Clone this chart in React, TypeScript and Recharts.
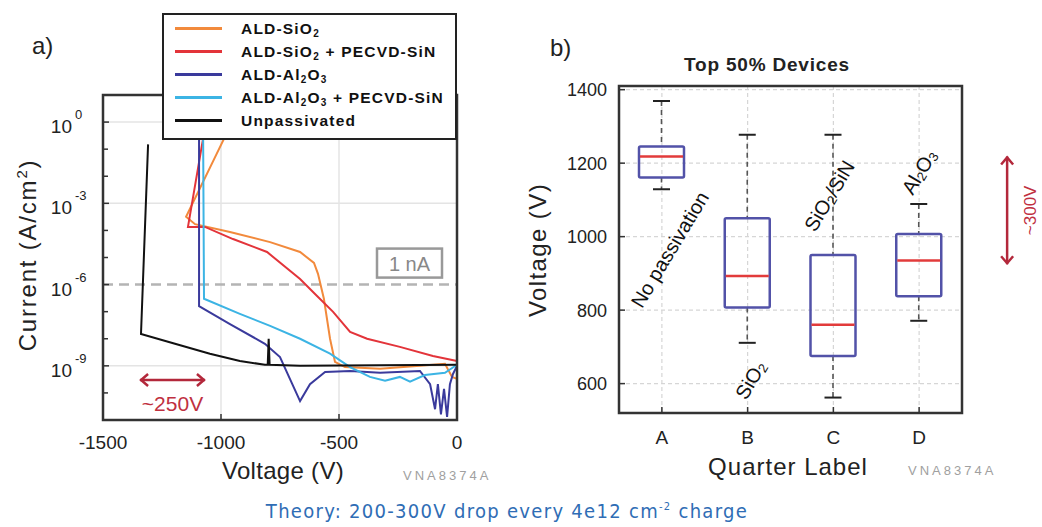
import React from 'react';
import {
  LineChart, Line, XAxis, YAxis, CartesianGrid, ReferenceLine, ReferenceDot, ReferenceArea, Legend, ComposedChart, Bar,
} from 'recharts';

const FONT = "'Liberation Sans', Arial, Helvetica, sans-serif";

// ---------- Panel a: I-V curves (V, A/cm^2) ----------
const ivSiO2 = [
  { v: -953, i: 1e0 }, { v: -1148, i: 3.2e-4 }, { v: -1110, i: 1.7e-4 }, { v: -962, i: 8.7e-5 },
  { v: -792, i: 3.7e-5 }, { v: -665, i: 1.6e-5 }, { v: -606, i: 6.3e-6 }, { v: -589, i: 2.5e-6 },
  { v: -564, i: 3e-7 }, { v: -538, i: 1e-8 }, { v: -517, i: 1.4e-9 }, { v: -475, i: 9e-10 },
  { v: -326, i: 7.8e-10 }, { v: -157, i: 1e-9 }, { v: -51, i: 1.2e-9 }, { v: -21, i: 3.9e-10 }, { v: 0, i: 3.3e-10 },
];
const ivSiO2SiN = [
  { v: -1064, i: 1e0 }, { v: -1140, i: 1.35e-4 }, { v: -1068, i: 1.35e-4 }, { v: -949, i: 4.8e-5 },
  { v: -805, i: 1.6e-5 }, { v: -665, i: 1.6e-6 }, { v: -593, i: 3.8e-7 }, { v: -525, i: 9.8e-8 },
  { v: -453, i: 1.8e-8 }, { v: -381, i: 1e-8 }, { v: -242, i: 5e-9 }, { v: -102, i: 2.3e-9 }, { v: 0, i: 1.5e-9 },
];
const ivAl2O3 = [
  { v: -1093, i: 1e0 }, { v: -1093, i: 1.6e-7 }, { v: -962, i: 3.5e-8 }, { v: -814, i: 6.5e-9 },
  { v: -750, i: 2.1e-9 }, { v: -708, i: 3.3e-10 }, { v: -665, i: 5e-11 }, { v: -623, i: 2.1e-10 },
  { v: -559, i: 5.9e-10 }, { v: -453, i: 6.5e-10 }, { v: -326, i: 5.5e-10 }, { v: -157, i: 6.5e-10 },
  { v: -114, i: 2.1e-10 }, { v: -93, i: 2.5e-11 }, { v: -81, i: 2.1e-10 }, { v: -68, i: 1.6e-11 },
  { v: -55, i: 1.4e-10 }, { v: -42, i: 1.3e-11 }, { v: -30, i: 2.1e-10 }, { v: -17, i: 5e-10 }, { v: 0, i: 1e-9 },
];
const ivAl2O3SiN = [
  { v: -1076, i: 1e0 }, { v: -1072, i: 3e-7 }, { v: -920, i: 8.3e-8 }, { v: -792, i: 3e-8 },
  { v: -665, i: 1e-8 }, { v: -538, i: 2.8e-9 }, { v: -453, i: 9e-10 }, { v: -369, i: 3.9e-10 },
  { v: -305, i: 2.8e-10 }, { v: -242, i: 3.9e-10 }, { v: -199, i: 2.6e-10 }, { v: -136, i: 4.6e-10 },
  { v: -51, i: 5.5e-10 }, { v: 0, i: 1.1e-9 },
];
const ivUnpassivated = [
  { v: -1309, i: 1.5e-1 }, { v: -1339, i: 1.5e-8 }, { v: -1195, i: 6.5e-9 }, { v: -1047, i: 2.8e-9 },
  { v: -920, i: 1.5e-9 }, { v: -814, i: 1.1e-9 }, { v: -802, i: 1.1e-9 }, { v: -798, i: 1e-8 },
  { v: -794, i: 1.1e-9 }, { v: -665, i: 1e-9 }, { v: 0, i: 1.1e-9 },
];

const seriesA = [
  { name: 'ALD-SiO_2', color: '#f28a3c', data: ivSiO2 },
  { name: 'ALD-SiO_2 + PECVD-SiN', color: '#e3343a', data: ivSiO2SiN },
  { name: 'ALD-Al_2O_3', color: '#3a3a9c', data: ivAl2O3 },
  { name: 'ALD-Al_2O_3 + PECVD-SiN', color: '#3cb4e4', data: ivAl2O3SiN },
  { name: 'Unpassivated', color: '#111111', data: ivUnpassivated },
];

const voltDomainA = [-1500, 0];
const currentDomainA = [1e-11, 10];
const voltTicksA = [-1500, -1000, -500, 0];
const decadeTicks = [1e-11, 1e-10, 1e-9, 1e-8, 1e-7, 1e-6, 1e-5, 1e-4, 1e-3, 1e-2, 1e-1, 1e0, 1e1];
const gridDecadesA = [1e-9, 1e-3, 1e0];
const gridVoltsA = [-1000, -500];

// two interior reference points; the frame is extended from them to the domain edges
const frameRefA = [{ x: -1000, y: 1e-9 }, { x: -500, y: 1e-3 }];

// ---------- Panel b: box plot (Top 50% devices) ----------
const quarters = ['A', 'B', 'C', 'D'];
const whiskerLow = [1129, 711, 562, 771];
const q1 = [1161, 807, 675, 838];
const median = [1218, 893, 760, 935];
const q3 = [1245, 1050, 950, 1007];
const whiskerHigh = [1369, 1277, 1277, 1089];
const voltTicksB = [600, 800, 1000, 1200, 1400];

const boxRows = quarters.map((q, k) => ({
  q, range: [whiskerLow[k], whiskerHigh[k]], q1: q1[k], med: median[k], q3: q3[k],
}));

const withSub = (s: string) =>
  s.split(/(_\d)/).map((part, k) =>
    part.startsWith('_') ? (
      <sub key={k} style={{ fontSize: 10, verticalAlign: -3, lineHeight: 0 }}>{part.slice(1)}</sub>
    ) : (
      <span key={k}>{part}</span>
    ),
  );

const LegendBox = () => (
  <div style={{
    border: '2px solid #222', background: '#fff', boxSizing: 'border-box', width: 295, height: 127,
    paddingTop: 2, fontFamily: FONT, fontWeight: 'bold', fontSize: 15.5, color: '#111', letterSpacing: 1.2,
  }}>
    {seriesA.map((s) => (
      <div key={s.name} style={{ display: 'flex', alignItems: 'center', height: 23, whiteSpace: 'nowrap' }}>
        <span style={{ display: 'inline-block', width: 47, height: 3, background: s.color, marginLeft: 11, marginRight: 19 }} />
        <span>{withSub(s.name)}</span>
      </div>
    ))}
  </div>
);

const LogTick = (p: any) => {
  const { x, y, payload } = p;
  const e = Math.round(Math.log10(payload.value));
  const major = e % 3 === 0 && e <= 0 && e >= -9;
  return (
    <g>
      <line x1={x} y1={y} x2={x + (major ? 6 : 5)} y2={y} stroke="#333" strokeWidth={1.5} />
      {major && (
        <>
          <text x={x - 31} y={y + 11} textAnchor="end" fontSize={19} fill="#222" fontFamily={FONT}>10</text>
          <text x={x - 28} y={y - 3} textAnchor="start" fontSize={13} fill="#222" fontFamily={FONT}>{e === 0 ? '0' : `-${-e}`}</text>
        </>
      )}
    </g>
  );
};
const RightTickA = (p: any) => (
  <line x1={p.x} y1={p.y} x2={p.x - 5} y2={p.y} stroke="#333" strokeWidth={1.5} />
);
const XTickA = (p: any) => (
  <g>
    <line x1={p.x} y1={p.y} x2={p.x} y2={p.y - 6} stroke="#333" strokeWidth={1.5} />
    <text x={p.x} y={p.y + 29} textAnchor="middle" fontSize={19} fill="#222" fontFamily={FONT}>{p.payload.value}</text>
  </g>
);
const NaLabel = (p: any) => {
  const vb = p.viewBox || {};
  const rx = vb.x + vb.width - 80;
  return (
    <g>
      <rect x={rx} y={vb.y - 36} width={65} height={29} fill="#fff" stroke="#999" strokeWidth={2.5} />
      <text x={rx + 32.5} y={vb.y - 14} textAnchor="middle" fontSize={20} fill="#888" fontFamily={FONT}>1 nA</text>
    </g>
  );
};

// Frame: the segment endpoints are the library's pixel positions of frameRefA;
// extend linearly (x) and logarithmically (y) to the domain edges.
const FrameA = (p: any) => {
  const { x1, y1, x2, y2 } = p;
  if (![x1, y1, x2, y2].every((n) => Number.isFinite(n))) return null;
  const [a, b] = frameRefA;
  const px = (v: number) => x1 + ((v - a.x) / (b.x - a.x)) * (x2 - x1);
  const la = Math.log10(a.y);
  const lb = Math.log10(b.y);
  const py = (c: number) => y1 + ((Math.log10(c) - la) / (lb - la)) * (y2 - y1);
  const left = px(voltDomainA[0]);
  const right = px(voltDomainA[1]);
  const bottom = py(currentDomainA[0]);
  const top = py(currentDomainA[1]);
  return (
    <rect x={left} y={top} width={right - left} height={bottom - top} fill="none" stroke="#333" strokeWidth={2.5} />
  );
};

const ArrowA = (p: any) => {
  const { x1, y1, x2, y2 } = p;
  const c = '#b3283b';
  return (
    <g>
      <line x1={x1} y1={y1} x2={x2} y2={y2} stroke={c} strokeWidth={2.5} />
      <polyline points={`${x1 + 8},${y1 - 6} ${x1 + 1},${y1} ${x1 + 8},${y1 + 6}`} fill="none" stroke={c} strokeWidth={2.5} />
      <polyline points={`${x2 - 8},${y2 - 6} ${x2 - 1},${y2} ${x2 - 8},${y2 + 6}`} fill="none" stroke={c} strokeWidth={2.5} />
      <text x={(x1 + x2) / 2} y={y1 + 31} textAnchor="middle" fontSize={21} fill="#c0303f" fontFamily={FONT}>~250V</text>
    </g>
  );
};

// panel b ticks
const VTickB = (p: any) => (
  <g>
    <line x1={p.x} y1={p.y} x2={p.x + 6} y2={p.y} stroke="#333" strokeWidth={1.5} />
    <text x={p.x - 12} y={p.y + 6.5} textAnchor="end" fontSize={18} fill="#222" fontFamily={FONT}>{p.payload.value}</text>
  </g>
);
const RTickB = (p: any) => (
  <line x1={p.x} y1={p.y} x2={p.x - 6} y2={p.y} stroke="#333" strokeWidth={1.5} />
);
const CatTick = (p: any) => (
  <g>
    <line x1={p.x} y1={p.y} x2={p.x} y2={p.y - 6} stroke="#333" strokeWidth={1.5} />
    <text x={p.x} y={p.y + 31} textAnchor="middle" fontSize={19} fill="#222" fontFamily={FONT}>{p.payload.value}</text>
  </g>
);
const TopTickB = (p: any) => (
  <line x1={p.x} y1={p.y} x2={p.x} y2={p.y + 6} stroke="#333" strokeWidth={1.5} />
);

const BoxShape = (p: any) => {
  const { x, y, width, height, payload } = p;
  if (!payload || !payload.range) return null;
  const [lo, hi] = payload.range;
  const top = Math.min(y, y + height);
  const bot = Math.max(y, y + height);
  const py = (v: number) => bot - ((v - lo) / (hi - lo)) * (bot - top);
  const cx = x + width / 2;
  const yq1 = py(payload.q1);
  const yq3 = py(payload.q3);
  const ym = py(payload.med);
  return (
    <g>
      <line x1={cx} x2={cx} y1={top} y2={yq3} stroke="#555" strokeWidth={1.6} strokeDasharray="5 4" />
      <line x1={cx} x2={cx} y1={yq1} y2={bot} stroke="#555" strokeWidth={1.6} strokeDasharray="5 4" />
      <line x1={cx - 8.5} x2={cx + 8.5} y1={top} y2={top} stroke="#222" strokeWidth={2} />
      <line x1={cx - 8.5} x2={cx + 8.5} y1={bot} y2={bot} stroke="#222" strokeWidth={2} />
      <rect x={x} y={yq3} width={width} height={yq1 - yq3} rx={1.5} fill="none" stroke="#5252a8" strokeWidth={2.5} />
      <line x1={x + 1} x2={x + width - 1} y1={ym} y2={ym} stroke="#e23b3b" strokeWidth={2.5} />
    </g>
  );
};

const annoShape = (parts: React.ReactNode, dx: number) => (p: any) => (
  <text transform={`translate(${p.cx + dx}, ${p.cy}) rotate(-59)`} textAnchor="middle" dominantBaseline="central"
    fontSize={20} fill="#111" fontFamily={FONT}>{parts}</text>
);
const sub2 = (before: string, after: string) => (
  <>
    <tspan>{before}</tspan>
    <tspan dy={4} fontSize={13}>2</tspan>
    <tspan dy={-4}>{after}</tspan>
  </>
);

const ArrowB = (p: any) => {
  const { y1, y2 } = p;
  const x = p.x1 + 88;
  const c = '#b3283b';
  const mid = (y1 + y2) / 2;
  return (
    <g>
      <line x1={x} y1={y1} x2={x} y2={y2} stroke={c} strokeWidth={2.5} />
      <polyline points={`${x - 6},${y1 + 8} ${x},${y1 + 1} ${x + 6},${y1 + 8}`} fill="none" stroke={c} strokeWidth={2.5} />
      <polyline points={`${x - 6},${y2 - 8} ${x},${y2 - 1} ${x + 6},${y2 - 8}`} fill="none" stroke={c} strokeWidth={2.5} />
      <text transform={`translate(${x + 23}, ${mid}) rotate(-90)`} textAnchor="middle" dominantBaseline="central"
        fontSize={17} fill="#c0303f" fontFamily={FONT}>~300V</text>
    </g>
  );
};

const abs = (left: number, top: number, extra: React.CSSProperties = {}): React.CSSProperties => ({
  position: 'absolute', left, top, whiteSpace: 'nowrap', fontFamily: FONT, ...extra,
});
const rotLabel = (cx: number, cy: number, extra: React.CSSProperties = {}): React.CSSProperties => ({
  position: 'absolute', left: cx, top: cy, transform: 'translate(-50%, -50%) rotate(-90deg)',
  whiteSpace: 'nowrap', fontFamily: FONT, ...extra,
});

export default function App() {
  return (
    <div style={{ position: 'absolute', left: 0, top: 0, width: 1042, height: 527, background: '#fff', overflow: 'hidden' }}>
      {/* Panel a */}
      <div style={{ position: 'absolute', left: 0, top: 0 }}>
        <LineChart width={480} height={527} margin={{ top: 95, right: 23, bottom: 77, left: 43 }}>
          <CartesianGrid xAxisId="b" yAxisId="l" horizontalValues={gridDecadesA} verticalValues={gridVoltsA}
            stroke="#e4e4e4" strokeWidth={1.5} />
          <XAxis xAxisId="b" type="number" dataKey="v" domain={voltDomainA} ticks={voltTicksA}
            height={30} tickSize={0} tickMargin={0} tickLine={false} axisLine={false} tick={<XTickA />} interval={0} />
          <YAxis yAxisId="l" scale="log" type="number" domain={currentDomainA} ticks={decadeTicks}
            width={60} tickSize={0} tickMargin={0} tickLine={false} axisLine={false} tick={<LogTick />} interval={0} />
          <YAxis yAxisId="r" orientation="right" scale="log" type="number" domain={currentDomainA} ticks={decadeTicks}
            width={0} tickSize={0} tickMargin={0} tickLine={false} axisLine={false}
            tick={<RightTickA />} interval={0} />
          <ReferenceLine xAxisId="b" yAxisId="l" y={1e-6} stroke="#b4b4b4" strokeWidth={2.5} strokeDasharray="10 6"
            label={<NaLabel />} />
          {seriesA.map((s) => (
            <Line key={s.name} xAxisId="b" yAxisId="l" data={s.data} dataKey="i" name={s.name} type="linear"
              stroke={s.color} strokeWidth={2} dot={false} activeDot={false} isAnimationActive={false} />
          ))}
          <ReferenceLine xAxisId="b" yAxisId="l" segment={frameRefA} ifOverflow="visible" shape={FrameA} />
          <ReferenceLine xAxisId="b" yAxisId="l" segment={[{ x: -1343, y: 3e-10 }, { x: -1068, y: 3e-10 }]}
            ifOverflow="visible" shape={ArrowA} />
          <Legend layout="vertical" align="center" verticalAlign="middle"
            wrapperStyle={{ left: 162, top: 13, width: 295, height: 127 }} content={() => <LegendBox />} />
        </LineChart>
      </div>

      {/* Panel b */}
      <div style={{ position: 'absolute', left: 500, top: 0 }}>
        <ComposedChart width={542} height={527} data={boxRows} margin={{ top: 86, right: 80, bottom: 84, left: 59 }}>
          <CartesianGrid xAxisId="b" yAxisId="l" stroke="#d6d6d6" strokeDasharray="4 3" strokeWidth={1.2} />
          <XAxis xAxisId="b" dataKey="q" height={30} tickSize={0} tickMargin={0} tickLine={false}
            axisLine={false} tick={<CatTick />} interval={0} />
          <XAxis xAxisId="t" orientation="top" dataKey="q" height={0} tickSize={0} tickMargin={0} tickLine={false}
            axisLine={false} tick={<TopTickB />} interval={0} />
          <YAxis yAxisId="l" type="number" domain={[520, 1410]} ticks={voltTicksB} allowDataOverflow width={60}
            tickSize={0} tickMargin={0} tickLine={false} axisLine={false} tick={<VTickB />} interval={0} />
          <YAxis yAxisId="r" orientation="right" type="number" domain={[520, 1410]} ticks={voltTicksB} allowDataOverflow
            width={0} tickSize={0} tickMargin={0} tickLine={false} axisLine={false} tick={<RTickB />} interval={0} />
          <Bar xAxisId="b" yAxisId="l" dataKey="range" barSize={45} shape={BoxShape} isAnimationActive={false} />
          <ReferenceArea xAxisId="b" yAxisId="l" y1={520} y2={1410} ifOverflow="visible"
            fill="none" fillOpacity={0} stroke="#333" strokeWidth={2.5} />
          <ReferenceDot xAxisId="b" yAxisId="l" x="A" y={965} r={0} ifOverflow="visible" shape={annoShape('No passivation', 8)} />
          <ReferenceDot xAxisId="b" yAxisId="l" x="B" y={610} r={0} ifOverflow="visible" shape={annoShape(sub2('SiO', ''), 3)} />
          <ReferenceDot xAxisId="b" yAxisId="l" x="C" y={1111} r={0} ifOverflow="visible" shape={annoShape(sub2('SiO', '/SiN'), -4)} />
          <ReferenceDot xAxisId="b" yAxisId="l" x="D" y={1176} r={0} ifOverflow="visible"
            shape={annoShape(<><tspan>Al</tspan><tspan dy={4} fontSize={13}>2</tspan><tspan dy={-4}>O</tspan><tspan dy={4} fontSize={13}>3</tspan></>, 0)} />
          <ReferenceLine xAxisId="b" yAxisId="l" segment={[{ x: 'D', y: 1218 }, { x: 'D', y: 925 }]}
            ifOverflow="visible" shape={ArrowB} />
        </ComposedChart>
      </div>

      {/* Text labels */}
      <div style={abs(32, 32, { fontSize: 24, color: '#222' })}>a)</div>
      <div style={abs(550, 34, { fontSize: 24, color: '#222' })}>b)</div>
      <div style={rotLabel(28, 255, { fontSize: 24, color: '#222', letterSpacing: 1.8 })}>
        Current (A/cm<sup style={{ fontSize: 15, lineHeight: 0 }}>2</sup>)
      </div>
      <div style={abs(283, 471, { fontSize: 24, color: '#222', transform: 'translate(-50%, -50%)', letterSpacing: 0.3 })}>Voltage (V)</div>
      <div style={abs(403, 468, { fontSize: 13, color: '#a0a0a0', letterSpacing: 3 })}>VNA8374A</div>

      <div style={abs(767, 65, { fontSize: 19, fontWeight: 'bold', color: '#222', transform: 'translate(-50%, -50%)', letterSpacing: 0.8 })}>Top 50% Devices</div>
      <div style={rotLabel(538, 250, { fontSize: 24, color: '#222', letterSpacing: 1.4 })}>Voltage (V)</div>
      <div style={abs(788, 467, { fontSize: 24, color: '#222', transform: 'translate(-50%, -50%)', letterSpacing: 1 })}>Quarter Label</div>
      <div style={abs(908, 463, { fontSize: 13, color: '#a0a0a0', letterSpacing: 3 })}>VNA8374A</div>

      <div style={abs(507, 511, {
        fontSize: 20, color: '#2f6db5', transform: 'translate(-50%, -50%)', letterSpacing: 1.3,
        fontFamily: "'DejaVu Sans Condensed', 'Liberation Sans Narrow', sans-serif",
      })}>
        Theory: 200-300V drop every 4e12 cm<sup style={{ fontSize: 11, lineHeight: 0 }}>-2</sup> charge
      </div>
    </div>
  );
}
